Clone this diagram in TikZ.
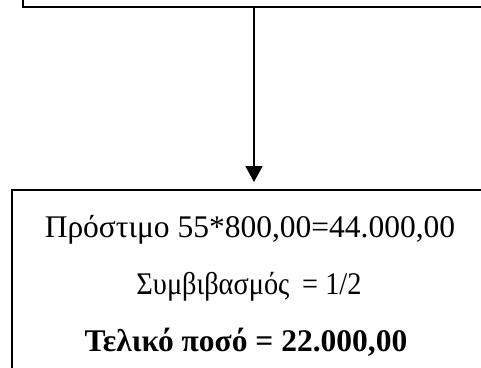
\documentclass[tikz,border=0pt]{standalone}
\usepackage{fontspec}
\usepackage{graphicx}
\setmainfont{Liberation Serif}
\usetikzlibrary{arrows.meta}
\begin{document}
\begin{tikzpicture}[x=1pt,y=-1pt,
  boxline/.style={draw=black,line width=2pt,rectangle,inner sep=0pt},
  txt/.style={anchor=base,inner sep=0pt,font=\fontsize{31.5}{38}\selectfont},
  conn/.style={line width=2pt,-{Triangle[length=16pt,width=17pt]},shorten >=7pt}]
\useasboundingbox (0,0) rectangle (481,367);
\clip (0,0) rectangle (481,367);
\fill[white] (0,0) rectangle (481,367);
\node[boxline,minimum width=517pt,minimum height=67pt] (topbox) at (281.5,-26.5) {};
\node[boxline,minimum width=528pt,minimum height=230pt] (botbox) at (276,305) {};
\coordinate (topS) at (topbox.south -| 254,0);
\coordinate (botN) at (botbox.north -| 254,0);
\draw[conn] (topS) -- (botN);
\node[txt] (l1) at (250,237) {Πρόστιμο 55*800,00=44.000,00};
\node[txt] (l2) at (249,294) {\scalebox{0.9}[1]{Συμβιβασμός\hspace{0.45em}= 1/2}};
\node[txt] (l3) at (246,351) {\bfseries Τελικό ποσό = 22.000,00};
\end{tikzpicture}
\end{document}
